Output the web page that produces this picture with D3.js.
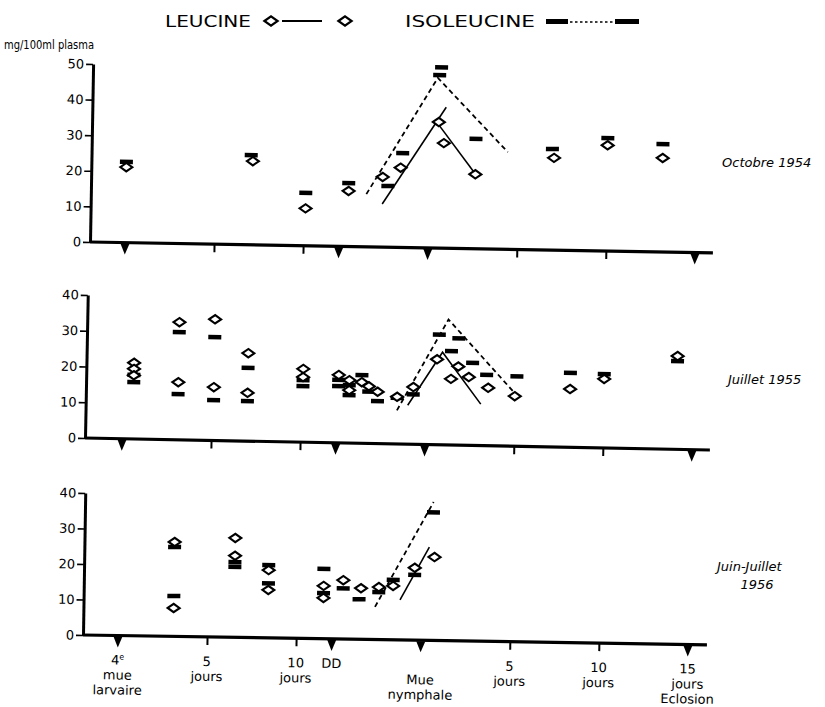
<!DOCTYPE html>
<html>
<head>
<meta charset="utf-8">
<script src="https://cdnjs.cloudflare.com/ajax/libs/d3/7.8.5/d3.min.js"></script>
<style>
  body { margin: 0; background: #fff; }
  text { font-family: "DejaVu Sans", sans-serif; fill: #000; }
</style>
</head>
<body>
<svg id="chart" width="825" height="707"></svg>
<script>
// values are [day after 4e mue larvaire, mg/100ml plasma]
var leu1954 = [[0,21.2],[7.1,23.5],[10.1,10.5],[12.5,15.6],[14.4,19.7],[15.4,22.4],[17.5,35.4],[17.8,29.5],[19.6,20.9],[24.0,25.9],[27.0,29.7],[30.1,26.4]];
var iso1954 = [[0,22.7],[7.0,25.2],[10.1,14.9],[12.5,17.8],[14.7,17.2],[15.5,26.5],[17.6,50.8],[17.5,48.6],[19.6,30.9],[23.9,28.4],[27.0,31.7],[30.1,30.3]];
var dash1954 = [[13.5,14.8],[17.4,47.8],[21.4,27.3]];
var solid1954 = [[[14.4,12.1],[17.9,39.6]], [[17.5,34.6],[19.6,21.0]]];

var leu1955 = [[0.6,21.3],[0.6,19.6],[0.6,17.8],[3.1,32.9],[3.1,16.1],[5.1,33.9],[5.1,14.9],[7.0,24.6],[7.0,13.5],
  [10.1,20.5],[10.1,18.2],[12.1,19.0],[12.7,17.6],[12.7,14.8],[13.4,17.1],[13.8,16.0],[14.3,14.5],[15.4,13.2],[16.3,16.0],
  [17.6,23.9],[18.4,18.5],[18.8,22.0],[19.4,19.1],[20.5,16.2],[22.0,14.0],[25.1,16.3],[27.0,19.3],[31.1,26.1]];
var iso1955 = [[0.6,17.9],[0.6,15.9],[3.1,30.1],[3.1,12.8],[5.1,28.9],[5.1,11.3],[7.0,20.5],[7.0,11.2],
  [10.1,17.4],[10.1,15.7],[12.1,17.6],[12.1,15.9],[12.7,16.2],[12.7,13.4],[13.4,19.1],[13.8,14.5],[14.3,11.9],[15.4,12.9],[16.3,14.0],
  [17.7,30.8],[18.4,26.3],[18.8,29.9],[19.6,23.1],[20.4,19.8],[22.1,19.6],[25.1,20.8],[27.0,20.7],[31.1,24.7]];
var dash1955 = [[15.4,9.4],[18.2,35.1],[22.1,14.3]];
var solid1955 = [[[16.0,10.9],[17.9,25.9],[20.1,11.6]]];

var leu1956 = [[3.1,26.6],[3.1,8.0],[6.5,28.0],[6.5,23.0],[8.4,19.1],[8.4,13.5],[11.5,14.9],[11.5,11.5],[12.6,16.6],
  [13.6,14.4],[14.6,14.8],[15.4,15.2],[16.6,20.4],[17.7,23.5]];
var iso1956 = [[3.1,25.2],[3.1,11.4],[6.5,21.2],[6.5,19.9],[8.4,20.5],[8.4,15.4],[11.5,19.7],[11.5,12.9],[12.6,14.3],
  [13.5,11.3],[14.6,13.4],[15.4,16.9],[16.6,18.4],[17.6,36.1]];
var dash1956 = [[[14.4,9.2],[17.6,39.0]]];
var solid1956 = [[[15.8,11.3],[17.4,26.3]]];

var markerDays = [0, 12, 17, 32];      // triangles: 4e mue, DD, mue nymphale, eclosion
var dayTicks = [5, 10, 22, 27];
var panelTitles = [["Octobre 1954"], ["Juillet 1955"], ["Juin-Juillet", "1956"]];
var bottomLabels = [[0, ["4e", "mue", "larvaire"]], [5, ["5", "jours"]], [10, ["10", "jours"]], [12, ["DD"]],
  [17, ["", "Mue", "nymphale"]], [22, ["5", "jours"]], [27, ["10", "jours"]], [32, ["15", "jours", "Eclosion"]]];

// layout of the three panels (scan is slightly tilted)
var panels = [
  { x0: 90, y0: 242, rot: 1.0, top: 50, h: 178, len: 623, d0: 35, lx: 722, ly: 167 },
  { x0: 85, y0: 438, rot: 1.1, top: 40, h: 143, len: 625, d0: 37, lx: 728, ly: 384 },
  { x0: 83, y0: 635, rot: 0.9, top: 40, h: 142, len: 624, d0: 35, lx: 717, ly: 571 }
];
var series = [
  [leu1954, iso1954, [dash1954], solid1954],
  [leu1955, iso1955, [dash1955], solid1955],
  [leu1956, iso1956, dash1956, solid1956]
];

var svg = d3.select("#chart");
var diamond = "M-6,0L0,-4.2L6,0L0,4.2Z";

// header
svg.append("text").attr("x", 165).attr("y", 27).attr("font-size", 16)
  .attr("textLength", 86).attr("lengthAdjust", "spacingAndGlyphs").text("LEUCINE");
svg.append("path").attr("d", diamond).attr("transform", "translate(271,21) scale(1.1)")
  .attr("fill", "#fff").attr("stroke", "#000").attr("stroke-width", 2);
svg.append("line").attr("x1", 282).attr("x2", 322).attr("y1", 21).attr("y2", 21)
  .attr("stroke", "#000").attr("stroke-width", 1.8);
svg.append("path").attr("d", diamond).attr("transform", "translate(345,21) scale(1.1)")
  .attr("fill", "#fff").attr("stroke", "#000").attr("stroke-width", 2);
svg.append("text").attr("x", 405).attr("y", 27).attr("font-size", 16)
  .attr("textLength", 130).attr("lengthAdjust", "spacingAndGlyphs").text("ISOLEUCINE");
svg.append("rect").attr("x", 546).attr("y", 19).attr("width", 22).attr("height", 5);
svg.append("line").attr("x1", 570).attr("x2", 613).attr("y1", 22).attr("y2", 22)
  .attr("stroke", "#000").attr("stroke-width", 1.5).attr("stroke-dasharray", "2.5,2.5");
svg.append("rect").attr("x", 615).attr("y", 19).attr("width", 24).attr("height", 5);
svg.append("text").attr("x", 4).attr("y", 49).attr("font-size", 12)
  .attr("textLength", 90).attr("lengthAdjust", "spacingAndGlyphs").text("mg/100ml plasma");

panels.forEach(function (p, i) {
  var leu = series[i][0], iso = series[i][1], dash = series[i][2], solid = series[i][3];

  var g = svg.append("g")
    .attr("transform", "translate(" + p.x0 + "," + p.y0 + ") rotate(" + p.rot + ")");

  var x = d3.scaleLinear().domain([0, 32]).range([p.d0, p.d0 + 570]);
  var y = d3.scaleLinear().domain([0, p.top]).range([0, -p.h]);

  // Y axis
  var ya = g.append("g")
    .call(d3.axisLeft(y).tickValues(d3.range(0, p.top + 1, 10)).tickSize(7).tickSizeOuter(0).tickPadding(2));
  ya.select(".domain").attr("stroke-width", 3);
  ya.selectAll(".tick line").attr("stroke-width", 1.6);
  ya.selectAll(".tick text").attr("font-size", 13).attr("font-family", "DejaVu Sans");

  // X axis
  g.append("line").attr("x1", 0).attr("x2", p.len).attr("y1", 0).attr("y2", 0)
    .attr("stroke", "#000").attr("stroke-width", 3.2);
  var xa = g.append("g")
    .call(d3.axisBottom(x).tickValues(dayTicks).tickSize(8).tickFormat(""));
  xa.select(".domain").remove();
  xa.selectAll(".tick line").attr("stroke-width", 2);
  g.selectAll(".mark").data(markerDays).enter().append("path")
    .attr("d", function (d) { return "M" + (x(d) - 4.5) + ",1L" + (x(d) + 4.5) + ",1L" + x(d) + ",12Z"; });

  var line = d3.line().x(function (d) { return x(d[0]); }).y(function (d) { return y(d[1]); });

  g.selectAll(".dash").data(dash).enter().append("path")
    .attr("d", line).attr("fill", "none").attr("stroke", "#000")
    .attr("stroke-width", 1.8).attr("stroke-dasharray", "5,3.5");
  g.selectAll(".solid").data(solid).enter().append("path")
    .attr("d", line).attr("fill", "none").attr("stroke", "#000").attr("stroke-width", 1.6);

  g.selectAll(".iso").data(iso).enter().append("rect")
    .attr("x", function (d) { return x(d[0]) - 6.5; })
    .attr("y", function (d) { return y(d[1]) - 2.2; })
    .attr("width", 13).attr("height", 4.5).attr("fill", "#000");

  g.selectAll(".leu").data(leu).enter().append("path")
    .attr("d", diamond)
    .attr("transform", function (d) { return "translate(" + x(d[0]) + "," + y(d[1]) + ")"; })
    .attr("fill", "#fff").attr("stroke", "#000").attr("stroke-width", 2.1);

  // bottom labels only under last panel
  if (i === 2) {
    bottomLabels.forEach(function (b) {
      var t = g.append("text").attr("text-anchor", "middle").attr("font-size", 13);
      b[1].forEach(function (s, k) {
        var ts = t.append("tspan").attr("x", x(b[0])).attr("y", 29 + k * 15);
        if (s === "4e") {
          ts.text("4");
          t.append("tspan").attr("font-size", 8).attr("dy", -5).text("e");
        } else {
          ts.text(s);
        }
      });
    });
  }

  // panel title on the right
  panelTitles[i].forEach(function (s, k) {
    svg.append("text")
      .attr("x", k === 0 ? p.lx : p.lx + 40).attr("y", p.ly + k * 18)
      .attr("text-anchor", k === 0 ? "start" : "middle")
      .attr("font-size", 13).attr("font-style", "italic").text(s);
  });
});
</script>
</body>
</html>
